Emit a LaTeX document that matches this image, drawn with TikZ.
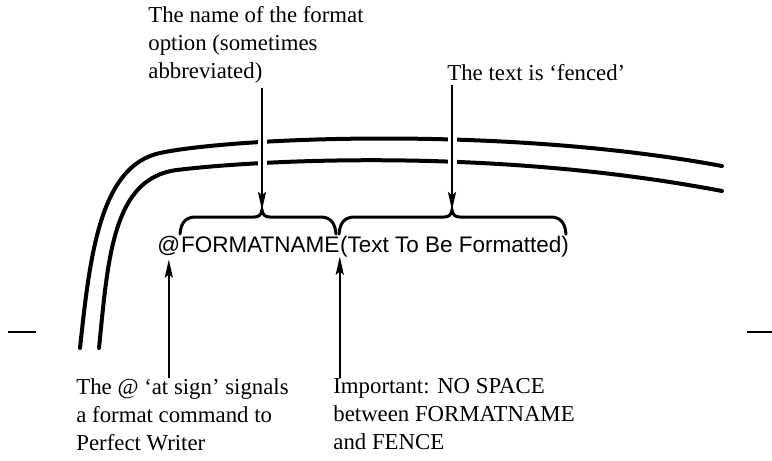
\documentclass[tikz,border=0pt]{standalone}
\usepackage{fontspec}
\setmainfont{Liberation Serif}
\setsansfont{Liberation Sans}
\usetikzlibrary{arrows.meta, positioning}

\begin{document}
\begin{tikzpicture}[
    x=0.5pt, y=-0.5pt,
    note/.style={font=\fontsize{11.4}{14}\selectfont, align=left,
                 inner sep=0pt, anchor=north west},
    cmd/.style={font=\sffamily\fontsize{11.25}{13}\selectfont,
                inner sep=0pt, anchor=base west},
    pointer/.style={line width=1pt, -{Stealth[length=9pt, width=4pt, inset=1.5pt]}},
    gap/.style={preaction={draw=white, line width=4.5pt, -, shorten >=14pt}},
    fence/.style={line width=1.5pt, line cap=round},
    rail/.style={line width=2pt, line cap=round}
]
    \useasboundingbox (0,0) rectangle (772,461);

    % rails
    \draw[rail] (80,348) .. controls (90,255) and (100,166) .. (160,153)
        .. controls (230,138) and (500,125) .. (722,166);
    \draw[rail] (99,348) .. controls (108,260) and (112,178) .. (177,170)
        .. controls (240,162) and (480,145) .. (722,191);
    \draw[line width=1pt] (8,332) -- (36,332);
    \draw[line width=1pt] (747,332) -- (772,332);

    % command line
    \node[cmd] (at) at (157,252) {@};
    \node[cmd] (fname) at (at.base east) {FORMATNAME};
    \node[cmd] (ftext) at (fname.base east) {(Text To Be Formatted)};

    \coordinate (tipA) at (262,210);
    \coordinate (tipB) at (452,210);
    \draw[fence] (180,234) .. controls (181,222) and (186,217) .. (196,217) -- (254,217)
        .. controls (259,217) and (261,215) .. (tipA) .. controls (263,215) and (265,217) .. (270,217)
        -- (320,217) .. controls (330,217) and (335,222) .. (336,234);
    \draw[fence] (339,234) .. controls (340,222) and (345,217) .. (355,217) -- (444,217)
        .. controls (449,217) and (451,215) .. (tipB) .. controls (453,215) and (455,217) .. (460,217)
        -- (550,217) .. controls (560,217) and (565,222) .. (566,234);

    % labels
    \node[note] (optname) at (148,6) {The name of the format\\option (sometimes\\abbreviated)};
    \node[note] (fenced) at (447,64) {The text is `fenced'};
    \node[note] (atsign) at (76,378) {The @ `at sign' signals\\a format command to\\Perfect Writer};
    \node[note] (nospace) at (333,378) {Important: NO SPACE\\between FORMATNAME\\and FENCE};

    \draw[pointer, gap, shorten <=2pt] (optname.south -| tipA) -- (tipA);
    \draw[pointer, gap, shorten <=2pt] (fenced.south -| tipB) -- (tipB);
    \draw[pointer, shorten >=2pt] (atsign.north -| at.south) -- (at.south);
    \draw[pointer, shorten >=2pt] (nospace.north -| fname.south east) -- (fname.south east);
\end{tikzpicture}
\end{document}
